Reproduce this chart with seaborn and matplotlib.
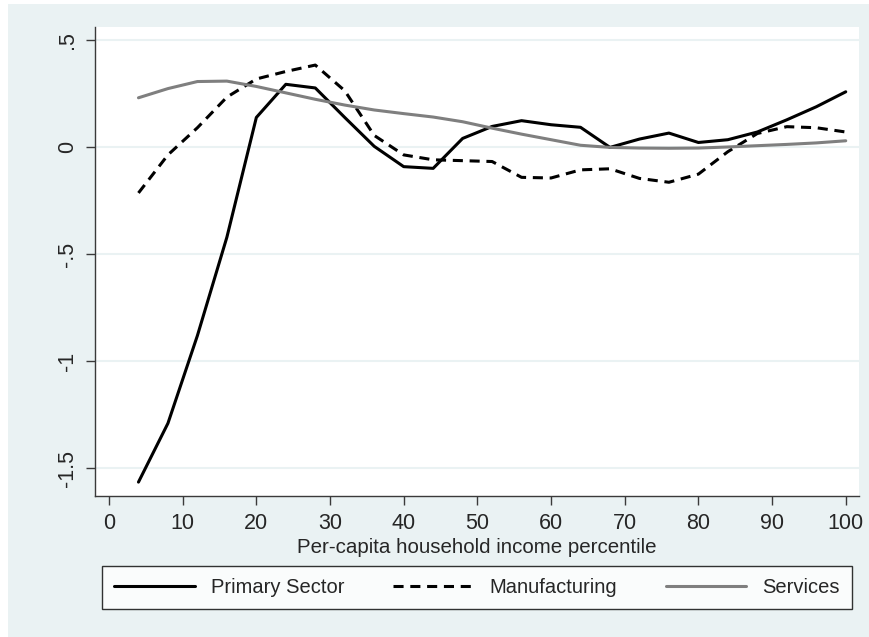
import matplotlib
matplotlib.use("Agg")
import matplotlib.pyplot as plt
import seaborn as sns
import pandas as pd
from matplotlib.patches import Rectangle

percentile = [4, 8, 12, 16, 20, 24, 28, 32, 36, 40, 44, 48, 52, 56, 60, 64, 68, 72, 76, 80, 84, 88, 92, 96, 100]
primary = [-1.565, -1.29, -0.88, -0.42, 0.14, 0.295, 0.278, 0.14, 0.005, -0.09, -0.098, 0.042, 0.098, 0.125,
           0.106, 0.094, 0.0, 0.039, 0.067, 0.023, 0.036, 0.072, 0.129, 0.19, 0.26]
manufacturing = [-0.213, -0.035, 0.092, 0.235, 0.32, 0.355, 0.385, 0.265, 0.056, -0.035, -0.058, -0.062, -0.066,
                 -0.14, -0.143, -0.105, -0.10, -0.145, -0.163, -0.125, -0.02, 0.065, 0.097, 0.092, 0.072]
services = [0.232, 0.275, 0.308, 0.31, 0.285, 0.255, 0.225, 0.198, 0.175, 0.158, 0.142, 0.12, 0.09, 0.062,
            0.036, 0.01, 0.0, -0.003, -0.004, -0.003, 0.002, 0.008, 0.014, 0.021, 0.031]
series_names = ["Primary Sector", "Manufacturing", "Services"]
x_ticks = [0, 10, 20, 30, 40, 50, 60, 70, 80, 90, 100]
y_ticks = [-1.5, -1, -0.5, 0, 0.5]
y_tick_labels = ["-1.5", "-1", "-.5", "0", ".5"]

df = pd.concat([
    pd.DataFrame({"pct": percentile, "value": vals, "sector": name})
    for name, vals in zip(series_names, [primary, manufacturing, services])
])

sns.set_style("white")
plt.rcParams["font.family"] = ["Liberation Sans", "DejaVu Sans"]

BG = "#EAF2F3"
W, H = 870, 637
fig = plt.figure(figsize=(8.7, 6.37), dpi=100, facecolor="white")
fig.patches.append(Rectangle((8 / W, 0), 1 - 8 / W, 1 - 4 / H, transform=fig.transFigure,
                             facecolor=BG, edgecolor="none", zorder=-10))

ax = fig.add_axes([95 / W, 1 - 496 / H, (859 - 95) / W, (496 - 27) / H])
ax.set_facecolor("white")

palette = {"Primary Sector": "black", "Manufacturing": "black", "Services": "#7f7f7f"}
dashes = {"Primary Sector": "", "Manufacturing": (3.3, 2.2), "Services": ""}
sns.lineplot(data=df, x="pct", y="value", hue="sector", style="sector", palette=palette,
             dashes=dashes, hue_order=series_names, style_order=series_names,
             linewidth=2.2, sort=False, ax=ax)

ax.set_xlim(-1.9, 101.8)
ax.set_ylim(-1.63, 0.563)
ax.set_xticks(x_ticks)
ax.set_xticklabels([str(t) for t in x_ticks])
ax.set_yticks(y_ticks)
ax.set_yticklabels(y_tick_labels, rotation=90, va="center")
ax.grid(axis="y", color=BG, linewidth=1.5)
ax.grid(axis="x", visible=False)
for s in ["top", "right"]:
    ax.spines[s].set_visible(False)
for s in ["left", "bottom"]:
    ax.spines[s].set_color("#3a3a3a")
    ax.spines[s].set_linewidth(1.0)
ax.tick_params(axis="both", direction="out", length=6.5, width=1.0, color="#3a3a3a",
               labelsize=15.5, pad=5.5, bottom=True, left=True)
ax.set_xlabel("Per-capita household income percentile", fontsize=14.8, labelpad=3)
ax.set_ylabel("")

handles, labels = ax.get_legend_handles_labels()
ax.get_legend().remove()
leg = fig.legend(handles, labels, loc="lower left", ncol=3, mode="expand",
                 bbox_to_anchor=(102 / W, 1 - 609 / H, (852 - 102) / W, (609 - 568) / H),
                 fontsize=14.5, frameon=True, fancybox=False, handlelength=4.0,
                 borderaxespad=0, borderpad=0.6, columnspacing=2.0)
leg.get_frame().set_edgecolor("black")
leg.get_frame().set_linewidth(1.0)
for lh in leg.get_lines():
    lh.set_linewidth(2.2)

fig.savefig("out.png", dpi=100, facecolor="white")
